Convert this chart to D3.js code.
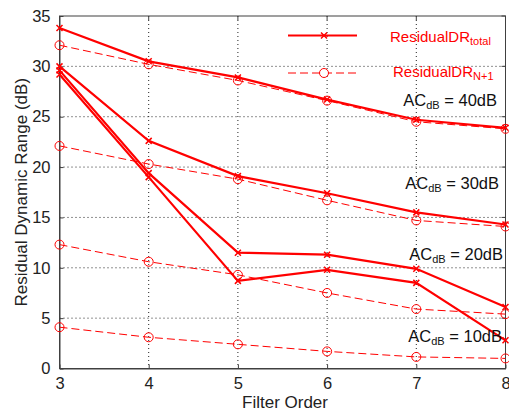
<!DOCTYPE html>
<html>
<head>
<meta charset="utf-8">
<script src="https://cdn.jsdelivr.net/npm/d3@7"></script>
<style>
  body { margin: 0; background: #fff; }
  svg { display: block; font-family: "Liberation Sans", Arial, sans-serif; }
</style>
</head>
<body>
<div id="chart"></div>
<script>
// data
var orders = [3, 4, 5, 6, 7, 8];
var xTicks = [3, 4, 5, 6, 7, 8];
var yTicks = [0, 5, 10, 15, 20, 25, 30, 35];

var total40 = [33.8, 30.5, 28.9, 26.7, 24.7, 23.9];
var nPlus40 = [32.1, 30.2, 28.6, 26.6, 24.5, 23.8];
var total30 = [30.0, 22.6, 19.1, 17.4, 15.5, 14.3];
var nPlus30 = [22.1, 20.3, 18.8, 16.7, 14.7, 14.1];
var total20 = [29.6, 19.4, 11.5, 11.3, 9.9, 6.1];
var nPlus20 = [12.3, 10.6, 9.3, 7.5, 5.9, 5.4];
var total10 = [29.2, 19.0, 8.7, 9.8, 8.5, 2.8];
var nPlus10 = [4.1, 3.1, 2.4, 1.7, 1.15, 1.0];

var acLabels = ["40", "30", "20", "10"];

var W = 509, H = 411;
var pLeft = 59.5, pRight = 505.5, pTop = 16, pBottom = 368.5;

var svg = d3.select("#chart").append("svg")
    .attr("width", W).attr("height", H);

var x = d3.scaleLinear().domain([3, 8]).range([pLeft, pRight]);
var y = d3.scaleLinear().domain([0, 35]).range([pBottom, pTop]);

var red = "#ff0000";
var axisCol = "#404040";

// grid
svg.append("g").selectAll("line").data(xTicks.slice(1, -1)).enter().append("line")
    .attr("x1", d => x(d)).attr("x2", d => x(d))
    .attr("y1", pTop).attr("y2", pBottom)
    .attr("stroke", "#222").attr("stroke-width", 1)
    .attr("stroke-dasharray", "1,3");
svg.append("g").selectAll("line").data(yTicks.slice(1, -1)).enter().append("line")
    .attr("x1", pLeft).attr("x2", pRight)
    .attr("y1", d => y(d)).attr("y2", d => y(d))
    .attr("stroke", "#222").attr("stroke-width", 1)
    .attr("stroke-dasharray", "1,3");

// box + axes
svg.append("rect")
    .attr("x", pLeft).attr("y", pTop)
    .attr("width", pRight - pLeft).attr("height", pBottom - pTop)
    .attr("fill", "none").attr("stroke", axisCol).attr("stroke-width", 1);

var xAxis = svg.append("g")
    .attr("transform", "translate(0," + pBottom + ")")
    .call(d3.axisBottom(x).tickValues(xTicks).tickFormat(d3.format("d"))
        .tickSizeInner(-4).tickSizeOuter(0).tickPadding(9));
var yAxis = svg.append("g")
    .attr("transform", "translate(" + pLeft + ",0)")
    .call(d3.axisLeft(y).tickValues(yTicks).tickFormat(d3.format("d"))
        .tickSizeInner(-4).tickSizeOuter(0).tickPadding(9));
[xAxis, yAxis].forEach(function(g) {
    g.select(".domain").attr("stroke", axisCol);
    g.selectAll(".tick line").attr("stroke", axisCol);
    g.selectAll("text").attr("font-size", 16.5).attr("fill", "#222")
        .attr("font-family", "'Liberation Sans', Arial, sans-serif");
});
// top/right tick marks
svg.append("g").selectAll("line").data(xTicks).enter().append("line")
    .attr("x1", d => x(d)).attr("x2", d => x(d))
    .attr("y1", pTop).attr("y2", pTop + 4).attr("stroke", axisCol);
svg.append("g").selectAll("line").data(yTicks).enter().append("line")
    .attr("x1", pRight - 4).attr("x2", pRight)
    .attr("y1", d => y(d)).attr("y2", d => y(d)).attr("stroke", axisCol);

// axis titles
svg.append("text")
    .attr("x", 285).attr("y", 408)
    .attr("text-anchor", "middle").attr("font-size", 17).attr("fill", "#222")
    .text("Filter Order");
svg.append("text")
    .attr("transform", "translate(27," + (pTop + pBottom) / 2 + ") rotate(-90)")
    .attr("text-anchor", "middle").attr("font-size", 17).attr("fill", "#222")
    .text("Residual Dynamic Range (dB)");

var line = d3.line().x((d, i) => x(orders[i])).y(d => y(d));

function drawTotal(vals) {
    svg.append("path").datum(vals)
        .attr("d", line).attr("fill", "none")
        .attr("stroke", red).attr("stroke-width", 2.2);
    var g = svg.append("g");
    vals.forEach(function(v, i) {
        var cx = x(orders[i]), cy = y(v), s = 3;
        g.append("path")
            .attr("d", "M" + (cx - s) + "," + (cy - s) + "L" + (cx + s) + "," + (cy + s) +
                       "M" + (cx - s) + "," + (cy + s) + "L" + (cx + s) + "," + (cy - s))
            .attr("stroke", red).attr("stroke-width", 1.5);
    });
}

function drawNPlus(vals) {
    svg.append("path").datum(vals)
        .attr("d", line).attr("fill", "none")
        .attr("stroke", red).attr("stroke-width", 1)
        .attr("stroke-dasharray", "8,4");
    svg.append("g").selectAll("circle").data(vals).enter().append("circle")
        .attr("cx", (d, i) => x(orders[i])).attr("cy", d => y(d))
        .attr("r", 4.5).attr("fill", "none")
        .attr("stroke", red).attr("stroke-width", 1);
}

[nPlus40, nPlus30, nPlus20, nPlus10].forEach(drawNPlus);
[total40, total30, total20, total10].forEach(drawTotal);

// AC annotations
var acPos = [[497, 106], [499, 189], [503, 260], [502, 342]];
acLabels.forEach(function(lab, i) {
    var t = svg.append("text")
        .attr("x", acPos[i][0]).attr("y", acPos[i][1])
        .attr("text-anchor", "end").attr("font-size", 16.5).attr("fill", "#111");
    t.append("tspan").text("AC");
    t.append("tspan").attr("font-size", 11).attr("dy", 3).text("dB");
    t.append("tspan").attr("dy", -3).text(" = " + lab + "dB");
});

// legend
var lg = svg.append("g");
lg.append("line").attr("x1", 288).attr("x2", 357).attr("y1", 35.5).attr("y2", 35.5)
    .attr("stroke", red).attr("stroke-width", 2.2);
lg.append("path")
    .attr("d", "M321,32.5L327,38.5M321,38.5L327,32.5")
    .attr("stroke", red).attr("stroke-width", 1.5);
lg.append("line").attr("x1", 288).attr("x2", 357).attr("y1", 73).attr("y2", 73)
    .attr("stroke", red).attr("stroke-width", 1).attr("stroke-dasharray", "8,4");
lg.append("circle").attr("cx", 324).attr("cy", 73).attr("r", 4.5)
    .attr("fill", "#fff").attr("stroke", red);

var lt1 = lg.append("text").attr("x", 390).attr("y", 42)
    .attr("font-size", 15).attr("fill", red);
lt1.append("tspan").text("ResidualDR");
lt1.append("tspan").attr("font-size", 11).attr("dy", 3).text("total");
var lt2 = lg.append("text").attr("x", 393).attr("y", 77)
    .attr("font-size", 15).attr("fill", red);
lt2.append("tspan").text("ResidualDR");
lt2.append("tspan").attr("font-size", 11).attr("dy", 3).text("N+1");
</script>
</body>
</html>
